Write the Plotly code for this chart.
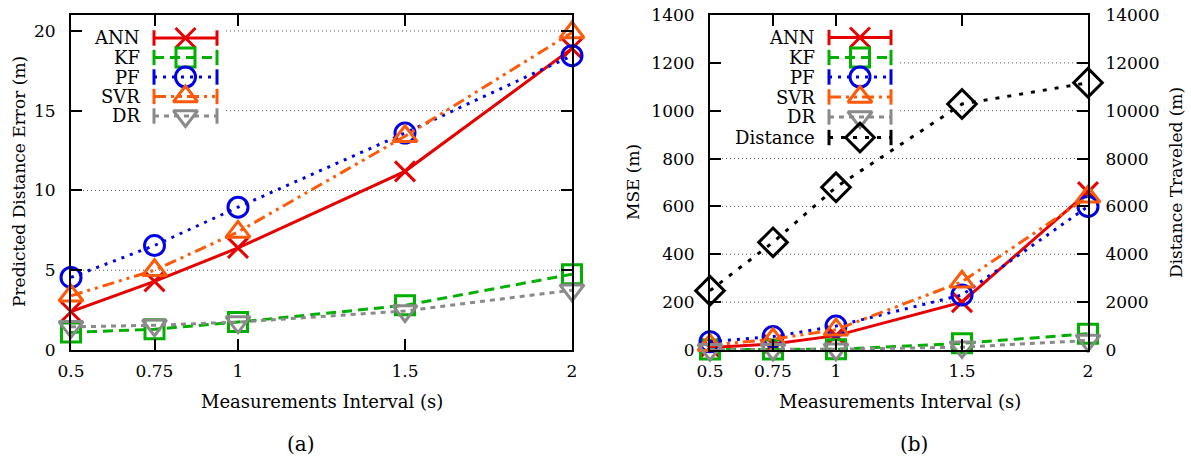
import plotly.graph_objects as go

# ---------------- data ----------------
intervals = [0.5, 0.75, 1, 1.5, 2]
interval_labels = ["0.5", "0.75", "1", "1.5", "2"]
series_names = ["ANN", "KF", "PF", "SVR", "DR"]

# (a) Predicted distance error (m)
err_ann = [2.4, 4.3, 6.4, 11.2, 18.9]
err_kf = [1.1, 1.3, 1.75, 2.8, 4.75]
err_pf = [4.55, 6.55, 8.95, 13.6, 18.45]
err_svr = [3.4, 5.0, 7.4, 13.4, 19.9]
err_dr = [1.45, 1.55, 1.75, 2.45, 3.75]

# (b) MSE (m) and distance traveled (m)
mse_ann = [10, 25, 60, 200, 660]
mse_kf = [2, 2, 3, 28, 68]
mse_pf = [35, 56, 100, 230, 600]
mse_svr = [20, 45, 85, 285, 640]
mse_dr = [1, 2, 3, 12, 40]
distance = [2480, 4500, 6800, 10280, 11170]

err_ticks = [0, 5, 10, 15, 20]
mse_ticks = [0, 200, 400, 600, 800, 1000, 1200, 1400]
dist_ticks = [0, 2000, 4000, 6000, 8000, 10000, 12000, 14000]

# ---------------- styles ----------------
W, H = 1191, 461
FONT = "DejaVu Serif"
FS = 17
FS_LEG = 18
FS_CAP = 20

STY = {
    "ANN": dict(color="#e60000", dash="solid", symbol="x-thin-open", size=20),
    "KF": dict(color="#00b000", dash="10px,6px", symbol="square-open", size=19),
    "PF": dict(color="#0000e6", dash="3px,6px", symbol="circle-open", size=20),
    "SVR": dict(color="#ff5a0a", dash="12px,5px,3px,5px,3px,5px", symbol="triangle-up-open", size=21),
    "DR": dict(color="#8a8a8a", dash="5px,5px", symbol="triangle-down-open", size=21),
    "Distance": dict(color="#000000", dash="4px,8px", symbol="diamond-open", size=22),
}

# panel geometry (pixels)
A_X0, A_X1 = 71, 572
B_X0, B_X1 = 710, 1088
Y_TOP, Y_BOT = 15, 350
A_YMAX, B_YMAX, B_Y2MAX = 21, 1400, 14000
A_BOX = (226, 128)   # legend box right edge / bottom edge (px)
B_BOX = (900, 150)


def fx(p):
    return p / W


def fy(p):
    return 1 - p / H


def add_series(fig, name, xs, ys, xa, ya):
    s = STY[name]
    fig.add_trace(go.Scatter(
        x=xs, y=ys, mode="lines+markers", name=name, showlegend=False,
        xaxis=xa, yaxis=ya, cliponaxis=False,
        line=dict(color=s["color"], width=3, dash=s["dash"]),
        marker=dict(symbol=s["symbol"], size=s["size"], color=s["color"],
                    line=dict(color=s["color"], width=3)),
    ))


fig = go.Figure()

# panel (a)
for name, vals in zip(series_names, [err_ann, err_kf, err_pf, err_svr, err_dr]):
    add_series(fig, name, intervals, vals, "x", "y")

# panel (b)
for name, vals in zip(series_names, [mse_ann, mse_kf, mse_pf, mse_svr, mse_dr]):
    add_series(fig, name, intervals, vals, "x2", "y2")
add_series(fig, "Distance", intervals, distance, "x2", "y3")

# ---------------- custom gnuplot-style legends ----------------
legend_a = dict(names=series_names, text_right=142, x0=154, x1=217, rows=[38, 57.5, 77, 96.5, 116])
legend_b = dict(names=series_names + ["Distance"], text_right=817, x0=829, x1=891,
                rows=[37.5, 57.5, 77, 97, 117, 137.5])

annotations = []
for lg in (legend_a, legend_b):
    for name, row in zip(lg["names"], lg["rows"]):
        s = STY[name]
        xm = (lg["x0"] + lg["x1"]) / 2
        fig.add_trace(go.Scatter(
            x=[lg["x0"], lg["x1"]], y=[row, row], mode="lines+markers", xaxis="x4", yaxis="y4",
            showlegend=False, hoverinfo="skip", cliponaxis=False,
            line=dict(color=s["color"], width=3, dash=s["dash"]),
            marker=dict(symbol="line-ns-open", size=11, line=dict(color=s["color"], width=3)),
        ))
        fig.add_trace(go.Scatter(
            x=[xm], y=[row], mode="markers", xaxis="x4", yaxis="y4",
            showlegend=False, hoverinfo="skip", cliponaxis=False,
            marker=dict(symbol=s["symbol"], size=s["size"], color=s["color"],
                        line=dict(color=s["color"], width=3)),
        ))
        annotations.append(dict(
            x=fx(lg["text_right"]), y=fy(row), xref="paper", yref="paper",
            xanchor="right", yanchor="middle", text=name, showarrow=False,
            font=dict(family=FONT, size=FS_LEG, color="black"),
        ))


# axis titles and captions
def title(text, x, y, angle=0, size=FS):
    annotations.append(dict(x=fx(x), y=fy(y), xref="paper", yref="paper", text=text,
                            showarrow=False, textangle=angle, xanchor="center", yanchor="middle",
                            font=dict(family=FONT, size=size, color="black")))


title("Predicted Distance Error (m)", 19, 182, -90)
title("Measurements Interval (s)", 322, 401, 0, 18)
title("(a)", 301, 444, 0, FS_CAP)
title("MSE (m)", 633, 182, -90)
title("Distance Traveled (m)", 1176, 183, -90)
title("Measurements Interval (s)", 900, 401, 0, 18)
title("(b)", 914, 444, 0, FS_CAP)

# ---------------- horizontal dotted grid (hidden behind the legend boxes) ----------------
shapes = []
for xa, ya, ticks, ymax, x0p, x1p, box in (
        ("x", "y", err_ticks, A_YMAX, A_X0, A_X1, A_BOX),
        ("x2", "y2", mse_ticks, B_YMAX, B_X0, B_X1, B_BOX)):
    for v in ticks[1:]:
        if v >= ymax:
            continue
        ypx = Y_BOT - v / ymax * (Y_BOT - Y_TOP)
        start = (box[0] - x0p) / (x1p - x0p) if ypx < box[1] else 0
        shapes.append(dict(type="line", xref=f"{xa} domain", yref=ya, layer="below",
                           x0=start, x1=1, y0=v, y1=v,
                           line=dict(color="#555555", width=1, dash="1px,3px")))

# ---------------- axes ----------------
ydom = [fy(Y_BOT), fy(Y_TOP)]
axis_common = dict(showline=True, linecolor="black", linewidth=2, ticks="inside", ticklen=11,
                   tickwidth=2, tickcolor="black", zeroline=False, showgrid=False,
                   automargin=False,
                   tickfont=dict(family=FONT, size=FS, color="black"))
xcommon = dict(axis_common, range=[0.5, 2], tickvals=intervals, ticktext=interval_labels,
               mirror="ticks", ticklabelstandoff=5)

fig.update_layout(
    template="none",
    width=W, height=H, autosize=False,
    margin=dict(l=0, r=0, t=0, b=0, autoexpand=False),
    paper_bgcolor="white", plot_bgcolor="rgba(0,0,0,0)",
    showlegend=False,
    xaxis=dict(xcommon, domain=[fx(A_X0), fx(A_X1)], anchor="y"),
    yaxis=dict(axis_common, domain=ydom, anchor="x", range=[0, A_YMAX], tickvals=err_ticks,
               mirror="ticks", ticklabelstandoff=10),
    xaxis2=dict(xcommon, domain=[fx(B_X0), fx(B_X1)], anchor="y2"),
    yaxis2=dict(axis_common, domain=ydom, anchor="x2", range=[0, B_YMAX], tickvals=mse_ticks,
                mirror=True, ticklabelstandoff=10),
    yaxis3=dict(axis_common, overlaying="y2", side="right", anchor="x2", range=[0, B_Y2MAX],
                tickvals=dist_ticks, tickformat="d", ticklabelstandoff=12),
    xaxis4=dict(domain=[0, 1], range=[0, W], visible=False, anchor="y4", fixedrange=True,
                automargin=False),
    yaxis4=dict(domain=[0, 1], range=[H, 0], visible=False, anchor="x4", fixedrange=True,
                automargin=False),
    annotations=annotations,
    shapes=shapes,
)

fig.write_html("out.html")
